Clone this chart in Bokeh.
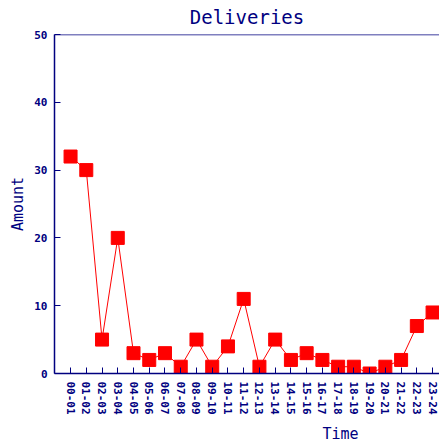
from bokeh.plotting import figure
from bokeh.models import FixedTicker, Span, Title, ColumnDataSource
from bokeh.embed import file_html
from bokeh.resources import INLINE

hours = ["00-01", "01-02", "02-03", "03-04", "04-05", "05-06", "06-07", "07-08",
         "08-09", "09-10", "10-11", "11-12", "12-13", "13-14", "14-15", "15-16",
         "16-17", "17-18", "18-19", "19-20", "20-21", "21-22", "22-23", "23-24"]
amounts = [32, 30, 5, 20, 3, 2, 3, 1, 5, 1, 4, 11, 1, 5, 2, 3, 2, 1, 1, 0, 1, 2, 7, 9]
y_ticks = [0, 10, 20, 30, 40, 50]

NAVY = "#000080"
FONT = "DejaVu Sans Mono"

idx = list(range(len(hours)))
src = ColumnDataSource(data=dict(x=idx, y=amounts, label=hours))

p = figure(width=439, height=447, output_backend="svg", toolbar_location=None,
           x_range=(-1.02, 23.44), y_range=(0, 50),
           min_border_left=54, min_border_right=0, min_border_top=33, min_border_bottom=72)

p.title.text = "Deliveries"
p.title.align = "center"
p.title.vertical_align = "top"
p.title.text_font = FONT
p.title.text_font_size = "19px"
p.title.text_font_style = "normal"
p.title.text_color = NAVY

p.outline_line_color = None
p.xgrid.visible = False
p.ygrid.visible = False
p.background_fill_color = "white"
p.border_fill_color = "white"

# top frame line
p.add_layout(Span(location=y_ticks[-1], dimension="width", line_color=NAVY, line_width=1.5))

p.line("x", "y", source=src, line_color="red", line_width=1)
p.scatter("x", "y", source=src, marker="square", size=13, fill_color="red", line_color="red")

xa = p.xaxis[0]
xa.ticker = FixedTicker(ticks=idx)
xa.major_label_overrides = {i: h for i, h in zip(idx, hours)}
xa.major_label_orientation = "vertical"
xa.major_tick_in = 6
xa.major_tick_out = 0
xa.minor_tick_line_color = None
xa.axis_line_color = NAVY
xa.axis_line_width = 1.5
xa.major_tick_line_color = NAVY
xa.major_label_text_font = FONT
xa.major_label_text_font_size = "11px"
xa.major_label_text_font_style = "bold"
xa.major_label_text_color = NAVY
xa.major_label_standoff = 8

ya = p.yaxis[0]
ya.ticker = FixedTicker(ticks=y_ticks)
ya.major_tick_in = 6
ya.major_tick_out = 0
ya.minor_tick_line_color = None
ya.axis_line_color = NAVY
ya.axis_line_width = 1.5
ya.major_tick_line_color = NAVY
ya.major_label_text_font = FONT
ya.major_label_text_font_size = "11px"
ya.major_label_text_font_style = "bold"
ya.major_label_text_color = NAVY
ya.major_label_standoff = 7
ya.axis_label = "Amount"
ya.axis_label_text_font = FONT
ya.axis_label_text_font_size = "15px"
ya.axis_label_text_font_style = "normal"
ya.axis_label_text_color = NAVY
ya.axis_label_standoff = 4

p.add_layout(Title(text="Time", align="left", offset=268, text_font=FONT,
                   text_font_size="15px", text_font_style="normal", text_color=NAVY), "below")

open("out.html", "w").write(file_html(p, INLINE))
